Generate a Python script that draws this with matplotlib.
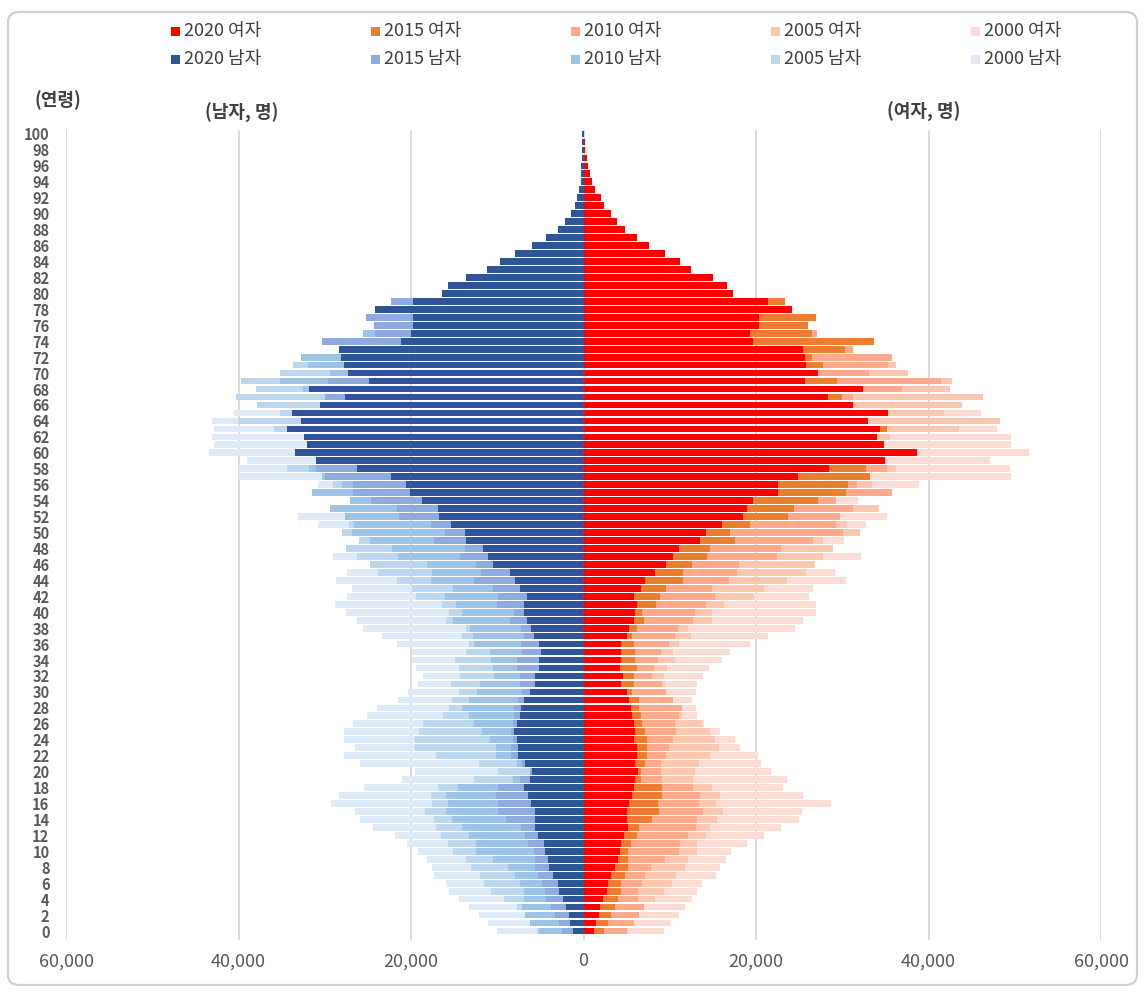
import matplotlib
matplotlib.use('Agg')
import matplotlib.pyplot as plt
from matplotlib.patches import FancyBboxPatch, Rectangle

# ---------------- data (age 0..100) ----------------
ages = list(range(101))

male_2020 = [1180,1530,1680,2000,2350,2820,3020,3490,4000,4150,
             4470,4620,5290,5600,5600,5600,6110,6420,6930,6270,
             5950,6740,7560,7560,7760,8070,7760,7400,7250,6930,
             6270,5600,5600,5130,5130,4970,5130,5760,6110,6580,
             6930,6930,6580,7400,7910,8580,10540,11050,11710,13630,
             13790,15390,16730,16920,18720,20170,20640,22330,26240,31020,
             33490,32120,32470,34430,32820,33800,30510,27690,31810,24830,
             27260,27770,28090,28320,21150,20050,19740,19740,24130,19740,
             16450,15750,13630,11160,9670,7910,5950,4310,3020,2190,
             1490,1020,740,550,350,300,250,220,200,180,
             150]
male_2015 = [2510,2820,3330,3800,4310,4470,4780,5290,5600,5600,
             5760,6420,6780,7250,9050,9870,9870,10180,9870,7400,
             6270,7090,8380,8380,8230,8380,8230,8070,8070,7560,
             7090,7400,7400,7760,7760,7090,7250,6930,7250,8580,
             8070,10030,9870,10540,12650,11870,12500,14300,13790,17390,
             16100,17700,21350,21660,24600,26750,26750,30000,31020,30000,
             32000,31000,31500,33000,31500,32000,29500,30000,30500,29690,
             26500,26800,27500,27000,30360,24170,24290,25260,22000,22290,
             15000,13500,12000,10000,8000,6500,5000,3500,2500,1800,
             1200,800,550,400,250,200,150,120,100,80,
             60]
male_2010 = [5130,6270,6740,7090,6930,6930,7400,7910,8730,10540,
             12500,12500,13320,14140,15280,15940,15750,15940,14610,8230,
             6000,7720,10180,10180,10850,11830,12650,13320,14140,13320,
             12340,12030,10380,10540,10690,10850,12650,12810,13160,15120,
             14140,14770,16100,15120,17700,17550,18210,21500,22170,24790,
             26910,26600,27690,29460,27070,31490,28050,30320,31810,29500,
             31000,30500,31000,32000,30000,31000,29000,29000,32510,35250,
             29380,31920,32790,25000,24000,25620,21500,20000,19000,18000,
             13000,11500,10000,8500,7000,5500,4200,3000,2100,1500,
             1000,650,450,300,200,150,100,80,60,50,
             40]
male_2005 = [5440,6000,6500,7720,9200,10690,11520,12030,13000,13630,
             15120,15750,16570,17080,17390,18370,17550,17700,16920,12650,
             9870,12140,17080,19550,19550,19040,18570,16260,15590,15280,
             14450,15430,14300,14450,14960,13630,13320,14140,13630,15940,
             15590,16410,19390,19860,21660,23780,24790,26240,27580,26090,
             28050,27220,27000,28500,26500,30000,29030,29500,34430,30500,
             33000,32000,32000,35920,40030,35250,37880,40350,38030,39720,
             35250,33650,30000,27000,25000,22000,20000,18500,17000,15500,
             13000,11000,9500,8000,6500,5200,4000,3000,2100,1400,
             950,620,400,270,170,120,80,55,40,30,
             20]
male_2000 = [10030,11050,12180,13320,14450,15590,15940,17390,17550,18210,
             19190,20530,21820,24440,25930,26560,29340,28360,25420,21000,
             19550,25930,27730,26560,27730,27730,26710,25110,23930,21500,
             20330,19190,18570,19390,19860,19860,21660,23420,25580,26240,
             27580,28870,27380,26910,28710,27380,24000,29030,27000,25500,
             27500,30830,33140,29000,27000,31000,30830,39950,39950,39050,
             43440,42810,43130,42810,43130,40500,37000,35000,33000,30000,
             27000,25000,22000,20000,18000,16500,15000,14000,12500,11000,
             8500,7500,6500,5400,4400,3500,2700,2000,1400,950,
             650,430,280,180,120,80,55,40,30,20,
             15]

female_2020 = [1230,1390,1740,1900,2210,2680,2880,3190,3660,4020,
               4170,4330,4680,5150,5000,5000,5310,5660,5820,5980,
               6330,5980,6170,6170,5820,5980,5820,5660,5500,5310,
               5000,4330,4530,4170,4330,4330,4330,5000,5310,5820,
               5980,6170,5820,6640,7150,8290,9580,10400,11070,13540,
               14200,16010,18470,18940,19610,22550,22550,24820,28430,34970,
               38610,34810,34030,34340,33010,35280,31250,28310,32340,25640,
               27130,25840,25640,25490,19610,19300,20390,20390,24190,21370,
               17290,16620,14970,12500,11210,9410,7570,6150,4780,3840,
               3175,2350,2000,1330,1020,745,550,390,200,200,
               80]
female_2015 = [2370,2880,3190,3660,4020,4330,4330,4840,5150,5150,
               5150,5500,6170,6480,7930,8760,8600,9110,9110,6640,
               6640,7150,7310,7310,7310,7150,6800,6640,6480,6480,
               5660,5820,5820,6170,5980,5980,5820,5660,6170,6950,
               6800,8440,8800,9580,11580,11580,12560,14360,14670,17610,
               16990,19300,23690,24350,27130,30390,30700,33170,32700,34000,
               36000,34000,33500,35120,32500,33000,30500,29910,31000,29400,
               26500,27760,26430,30270,33640,26470,25960,26940,23500,23330,
               15500,14000,12500,10500,9000,7500,6000,4700,3600,2700,
               2000,1500,1100,800,550,380,260,170,110,70,
               50]
female_2010 = [5000,5820,6480,6950,6330,6330,6800,7150,7780,9420,
               11070,11220,12050,13030,13180,13850,13380,13540,12710,9110,
               8950,8950,9580,9930,10400,10750,10600,11070,11380,10400,
               9580,9110,7970,8130,8600,8950,9930,10600,10910,12710,
               12870,14200,15180,14830,16830,17810,17960,22390,22860,26620,
               30070,29250,29720,31210,29250,35790,31680,32000,35130,33000,
               35000,33000,33000,33000,32000,31000,30000,31250,36970,41390,
               33050,35320,35790,31210,27000,27090,24500,23000,21000,19000,
               13500,12000,10500,9000,7500,6000,4800,3700,2800,2000,
               1500,1100,800,550,380,260,170,110,70,45,
               30]
female_2005 = [5150,5700,6300,6800,8290,9270,10250,10750,11730,12050,
               13180,13180,14160,14670,15500,16160,15340,15810,14830,12710,
               12870,13380,14670,15650,15180,14670,13690,11380,11000,10200,
               9400,9420,9270,9620,10600,10400,11070,12400,12150,14830,
               14830,16320,19770,20900,23530,25840,26780,27760,28890,27760,
               32030,30580,29000,34300,29000,35000,33480,33000,36260,34000,
               37000,34000,35480,43470,48330,41750,43820,46250,42530,42690,
               37590,36260,30000,28000,26000,24000,22000,20500,19000,17500,
               12000,10500,9000,7500,6200,5000,4000,3000,2200,1600,
               1150,800,550,380,250,170,110,70,45,30,
               20]
female_2000 = [9270,10090,11070,11730,12560,13180,13690,15340,15810,16480,
               17140,18900,20900,22860,24980,25290,28740,25490,23170,23530,
               21720,20590,20240,18120,17610,15810,14010,13180,13030,12520,
               13030,13180,13850,14520,16010,16950,19260,21370,24470,25490,
               26940,26940,26110,26620,30380,29090,26000,32190,28500,30230,
               31500,32700,35130,34000,31870,35000,38890,49540,49390,47070,
               51660,49540,49540,47940,46000,46130,42000,40000,38000,36000,
               33000,31000,29000,27000,25000,23000,21000,19500,18000,16500,
               11000,9500,8000,6800,5600,4500,3600,2700,2000,1450,
               1050,750,520,380,300,250,200,200,530,150,
               100]

years = ['2000', '2005', '2010', '2015', '2020']   # back -> front
male_series = [male_2000, male_2005, male_2010, male_2015, male_2020]
female_series = [female_2000, female_2005, female_2010, female_2015, female_2020]
male_colors = ['#DEEBF7', '#BDD7EE', '#9DC3E6', '#8FAADC', '#2F5597']
female_colors = ['#FBDDD6', '#FAC8B0', '#FCA98C', '#ED7D31', '#FF0000']

x_ticks = [-60000, -40000, -20000, 0, 20000, 40000, 60000]
y_ticks = list(range(0, 101, 2))

KR = ['Noto Sans CJK KR', 'DejaVu Sans']
plt.rcParams['font.family'] = KR

W, H = 1144, 992
fig = plt.figure(figsize=(W / 100, H / 100), dpi=100)

# outer rounded frame
frame = FancyBboxPatch((8 / W, 7 / H), (1137 - 8) / W, (980 - 7) / H,
                       boxstyle='round,pad=0,rounding_size=0.01',
                       transform=fig.transFigure, fill=False,
                       edgecolor='#D0D0D0', linewidth=1.6)
fig.patches.append(frame)

ax = fig.add_axes([66.1 / W, (H - 939.8) / H, 1035 / W, 809.8 / H])

for vals, col, z in zip(male_series, male_colors, range(5)):
    ax.barh(ages, [-v for v in vals], height=0.84, color=col,
            edgecolor='none', zorder=2 + z)
for vals, col, z in zip(female_series, female_colors, range(5)):
    ax.barh(ages, vals, height=0.84, color=col,
            edgecolor='none', zorder=2 + z)

ax.set_xlim(-60000, 60000)
ax.set_ylim(-1.1, 100.5)
ax.set_xticks(x_ticks)
ax.set_xticklabels([f'{abs(v):,}' for v in x_ticks])
ax.set_yticks(y_ticks)
ax.set_yticklabels([str(v) for v in y_ticks])
ax.tick_params(axis='x', length=0, pad=9, labelsize=13, labelcolor='#595959')
ax.tick_params(axis='y', length=0, pad=12, labelsize=10.5, labelcolor='#595959')
for lab in ax.get_yticklabels():
    lab.set_fontweight('bold')
for s in ax.spines.values():
    s.set_visible(False)
ax.xaxis.grid(True, color='#D9D9D9', linewidth=1.3)
ax.yaxis.grid(False)
ax.set_axisbelow(True)

# titles
fig.text(35 / W, 1 - 100 / H, '(연령)', ha='left', va='center',
         fontsize=13, fontweight='bold', color='#404040')
fig.text(242 / W, 1 - 113 / H, '(남자, 명)', ha='center', va='center',
         fontsize=13, fontweight='bold', color='#404040')
fig.text(924 / W, 1 - 112 / H, '(여자, 명)', ha='center', va='center',
         fontsize=13, fontweight='bold', color='#404040')

# legend (two rows, five columns)
legend_years = ['2020', '2015', '2010', '2005', '2000']
f_cols = female_colors[::-1]
m_cols = male_colors[::-1]
for i, yr in enumerate(legend_years):
    x0 = 171 + 200 * i
    for row_y, lab, col in [(31, f'{yr} 여자', f_cols[i]), (59, f'{yr} 남자', m_cols[i])]:
        fig.patches.append(Rectangle((x0 / W, 1 - (row_y + 4.5) / H), 9 / W, 9 / H,
                                     transform=fig.transFigure, facecolor=col,
                                     edgecolor='none'))
        fig.text((x0 + 13) / W, 1 - row_y / H, lab, ha='left', va='center',
                 fontsize=13, fontweight='medium', color='#404040')

fig.savefig('out.png', dpi=100)
